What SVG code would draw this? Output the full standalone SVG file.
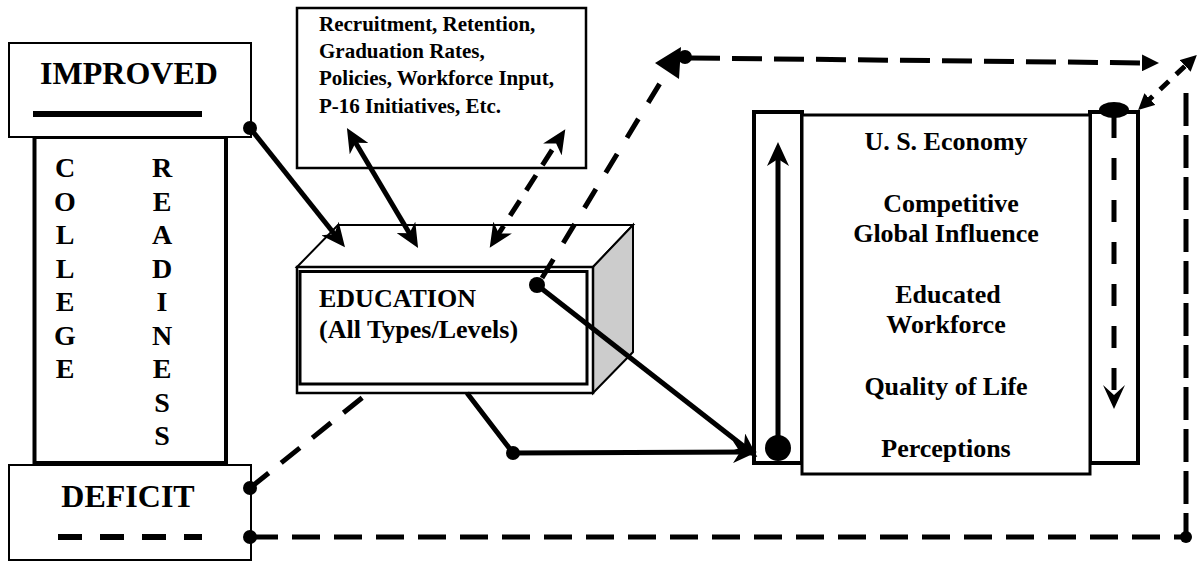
<svg xmlns="http://www.w3.org/2000/svg" width="1202" height="562" viewBox="0 0 1202 562">
<style>
.t{font-family:"Liberation Serif","Times New Roman",serif;font-weight:bold;fill:#000}
.box{fill:#fff;stroke:#000}
.ln{fill:none;stroke:#000;stroke-width:5}
.dot{fill:#000}
</style>
<defs>
<marker id="arr" viewBox="0 0 24 22" refX="16" refY="11" markerWidth="4.8" markerHeight="4.4" markerUnits="strokeWidth" orient="auto-start-reverse"><path d="M0,0 L24,11 L0,22 L7,11 z" fill="#000"/></marker>
<marker id="chev" viewBox="0 0 24 22" refX="18" refY="11" markerWidth="4.8" markerHeight="4.4" markerUnits="strokeWidth" orient="auto-start-reverse"><path d="M0,0 L24,11 L0,22 L10,11 z" fill="#000"/></marker>
<marker id="tri" viewBox="0 0 17 17" refX="8" refY="8.5" markerWidth="17" markerHeight="17" markerUnits="userSpaceOnUse" orient="auto-start-reverse"><path d="M0,0 L17,8.5 L0,17 z" fill="#000"/></marker>
<marker id="triS" viewBox="0 0 16 16" refX="8" refY="8" markerWidth="16" markerHeight="16" markerUnits="userSpaceOnUse" orient="auto-start-reverse"><path d="M0,0 L16,8 L0,16 z" fill="#000"/></marker>
</defs>
<rect width="1202" height="562" fill="#fff"/>

<g id="college-readiness">
<rect class="box" x="34.5" y="137" width="191.5" height="326" stroke-width="4"/>
<g class="t" font-size="28" text-anchor="middle">
<text x="65" y="177">C</text><text x="65" y="210.5">O</text><text x="65" y="244">L</text><text x="65" y="277.5">L</text><text x="65" y="311">E</text><text x="65" y="344.5">G</text><text x="65" y="378">E</text>
<text x="162" y="177">R</text><text x="162" y="210.5">E</text><text x="162" y="244">A</text><text x="162" y="277.5">D</text><text x="162" y="311">I</text><text x="162" y="344.5">N</text><text x="162" y="378">E</text><text x="162" y="411.5">S</text><text x="162" y="445">S</text>
</g>
</g>

<g id="improved">
<rect class="box" x="9" y="43" width="242" height="94" stroke-width="2"/>
<text class="t" x="129" y="84" font-size="32" text-anchor="middle">IMPROVED</text>
<rect x="33" y="111" width="169" height="6" fill="#000"/>
</g>

<g id="deficit">
<rect class="box" x="9" y="465" width="242" height="95" stroke-width="2"/>
<text class="t" x="128" y="507" font-size="32" text-anchor="middle">DEFICIT</text>
<line x1="58" y1="537" x2="202" y2="537" stroke="#000" stroke-width="6" stroke-dasharray="24 18"/>
</g>

<g id="factors">
<rect class="box" x="297" y="8" width="289" height="160" stroke-width="2.5"/>
<g class="t" font-size="21">
<text x="319" y="31">Recruitment, Retention,</text>
<text x="319" y="58">Graduation Rates,</text>
<text x="319" y="85">Policies, Workforce Input,</text>
<text x="319" y="113">P-16 Initiatives, Etc.</text>
</g>
</g>

<g id="education">
<polygon points="297,267 338,225 633,225 593,267" fill="#fff" stroke="#000" stroke-width="2"/>
<polygon points="593,267 633,225 633,352 593,393" fill="#cccccc" stroke="#000" stroke-width="2"/>
<rect class="box" x="297" y="267" width="296" height="126" stroke-width="2.5"/>
<rect x="300" y="271.5" width="287" height="112.5" fill="none" stroke="#000" stroke-width="3"/>
<text class="t" x="319" y="307" font-size="26">EDUCATION</text>
<text class="t" x="319" y="338" font-size="26">(All Types/Levels)</text>
</g>

<g id="economy">
<rect class="box" x="754" y="112" width="48" height="351" stroke-width="4"/>
<rect class="box" x="1090" y="112" width="48" height="351" stroke-width="4"/>
<rect class="box" x="802" y="115" width="288" height="359" stroke-width="3"/>
<g class="t" font-size="26" text-anchor="middle">
<text x="946" y="150">U. S. Economy</text>
<text x="951" y="212">Competitive</text>
<text x="946" y="242">Global Influence</text>
<text x="948" y="303">Educated</text>
<text x="946" y="333">Workforce</text>
<text x="946" y="395">Quality of Life</text>
<text x="946" y="457">Perceptions</text>
</g>
</g>

<g id="connectors">
<path class="ln" d="M250,128 L340,241" marker-end="url(#arr)"/>
<path class="ln" d="M351,135 L414,241" marker-start="url(#arr)" marker-end="url(#arr)"/>
<path class="ln" d="M494,241 L561,136" stroke-dasharray="18 12" marker-start="url(#arr)" marker-end="url(#arr)"/>
<path class="ln" d="M467,393 L513,453 L749,452" marker-end="url(#arr)"/>
<path class="ln" d="M537,285 L751,452" marker-end="url(#arr)"/>
<path class="ln" d="M542,278 L668,70" stroke-dasharray="22 19"/>
<path class="ln" d="M690,58 L1150,63" stroke-width="6" stroke-dasharray="30 12" marker-end="url(#tri)"/>
<polygon points="655,63 681,47 679,79" fill="#000"/>
<path class="ln" d="M1144,104.5 L1191,60.5" stroke-dasharray="12 10" marker-start="url(#triS)" marker-end="url(#triS)"/>
<path class="ln" d="M1186,93 L1186,537" stroke-width="6" stroke-dasharray="33 9"/>
<path class="ln" d="M250,537 L1186,537" stroke-width="6" stroke-dasharray="28 14"/>
<path class="ln" d="M250,488 L368,393" stroke-dasharray="24 16"/>
<path class="ln" d="M778,448 L778,150" stroke-width="6" marker-end="url(#arr)"/>
<path class="ln" d="M1114,116 L1114,403" stroke-width="6" stroke-dasharray="22 20" marker-end="url(#chev)"/>
<circle class="dot" cx="250" cy="128" r="7"/>
<circle class="dot" cx="250" cy="488" r="7"/>
<circle class="dot" cx="250" cy="537" r="7"/>
<circle class="dot" cx="1186" cy="537" r="6"/>
<circle class="dot" cx="513" cy="453" r="7"/>
<circle class="dot" cx="537" cy="285" r="8"/>
<circle class="dot" cx="685" cy="57" r="7"/>
<circle class="dot" cx="778" cy="448" r="13"/>
<ellipse class="dot" cx="1114" cy="110" rx="15" ry="8"/>
</g>
</svg>
